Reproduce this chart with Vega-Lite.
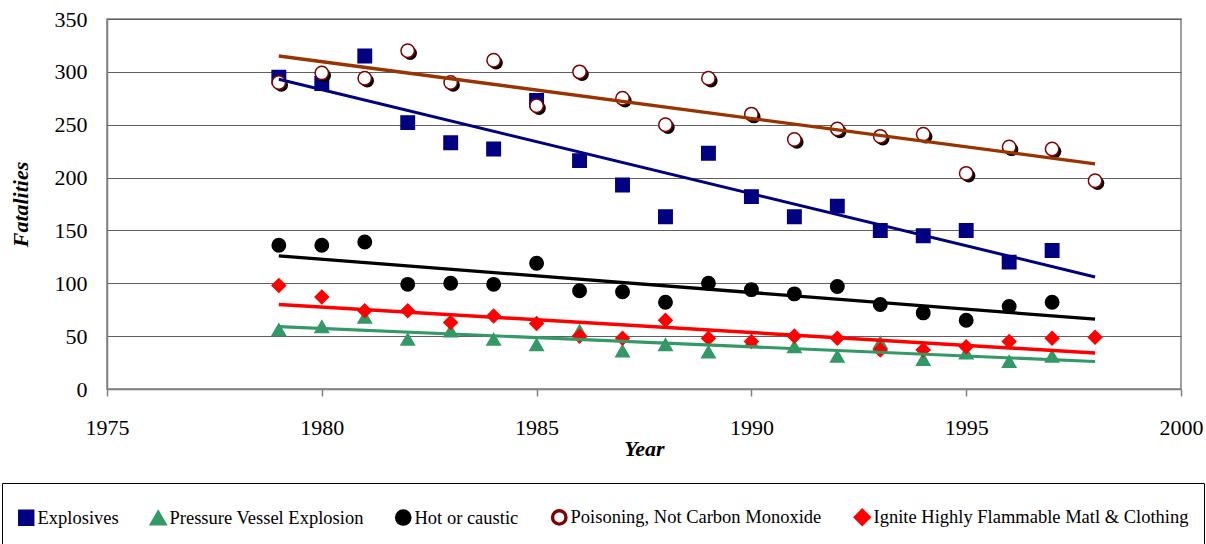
{
  "$schema": "https://vega.github.io/schema/vega-lite/v6.json",
  "width": 1074,
  "height": 370,
  "autosize": {"type": "none"},
  "padding": {"left": 107, "top": 19, "right": 25, "bottom": 155},
  "background": "white",
  "config": {
    "font": "Liberation Serif, Times New Roman, serif",
    "view": {"stroke": "#808080", "strokeWidth": 1.5},
    "axis": {"labelFont": "Liberation Serif, Times New Roman, serif", "titleFont": "Liberation Serif, Times New Roman, serif"},
    "legend": {
      "orient": "none",
      "legendX": -105,
      "legendY": 464,
      "direction": "horizontal",
      "strokeColor": "#000000",
      "padding": 15,
      "labelFont": "Liberation Serif, Times New Roman, serif",
      "titleFont": "Liberation Serif, Times New Roman, serif",
      "labelFontSize": 18.5,
      "labelColor": "#000000",
      "labelLimit": 0,
      "columnPadding": 26,
      "symbolSize": 180,
      "symbolStrokeWidth": 1.5,
      "labelOffset": 2
    }
  },
  "datasets": {
    "points": [
      {"year": 1979, "series": "Explosives", "fatalities": 295},
      {"year": 1980, "series": "Explosives", "fatalities": 289},
      {"year": 1981, "series": "Explosives", "fatalities": 315},
      {"year": 1982, "series": "Explosives", "fatalities": 252},
      {"year": 1983, "series": "Explosives", "fatalities": 233},
      {"year": 1984, "series": "Explosives", "fatalities": 227},
      {"year": 1985, "series": "Explosives", "fatalities": 273},
      {"year": 1986, "series": "Explosives", "fatalities": 216},
      {"year": 1987, "series": "Explosives", "fatalities": 193},
      {"year": 1988, "series": "Explosives", "fatalities": 163},
      {"year": 1989, "series": "Explosives", "fatalities": 223},
      {"year": 1990, "series": "Explosives", "fatalities": 182},
      {"year": 1991, "series": "Explosives", "fatalities": 163},
      {"year": 1992, "series": "Explosives", "fatalities": 173},
      {"year": 1993, "series": "Explosives", "fatalities": 150},
      {"year": 1994, "series": "Explosives", "fatalities": 145},
      {"year": 1995, "series": "Explosives", "fatalities": 150},
      {"year": 1996, "series": "Explosives", "fatalities": 120},
      {"year": 1997, "series": "Explosives", "fatalities": 131},
      {"year": 1979, "series": "Pressure Vessel Explosion", "fatalities": 56},
      {"year": 1980, "series": "Pressure Vessel Explosion", "fatalities": 59},
      {"year": 1981, "series": "Pressure Vessel Explosion", "fatalities": 68},
      {"year": 1982, "series": "Pressure Vessel Explosion", "fatalities": 47},
      {"year": 1983, "series": "Pressure Vessel Explosion", "fatalities": 55},
      {"year": 1984, "series": "Pressure Vessel Explosion", "fatalities": 47},
      {"year": 1985, "series": "Pressure Vessel Explosion", "fatalities": 42},
      {"year": 1986, "series": "Pressure Vessel Explosion", "fatalities": 55},
      {"year": 1987, "series": "Pressure Vessel Explosion", "fatalities": 36},
      {"year": 1988, "series": "Pressure Vessel Explosion", "fatalities": 42},
      {"year": 1989, "series": "Pressure Vessel Explosion", "fatalities": 35},
      {"year": 1990, "series": "Pressure Vessel Explosion", "fatalities": 45},
      {"year": 1991, "series": "Pressure Vessel Explosion", "fatalities": 40},
      {"year": 1992, "series": "Pressure Vessel Explosion", "fatalities": 31},
      {"year": 1993, "series": "Pressure Vessel Explosion", "fatalities": 44},
      {"year": 1994, "series": "Pressure Vessel Explosion", "fatalities": 28},
      {"year": 1995, "series": "Pressure Vessel Explosion", "fatalities": 34},
      {"year": 1996, "series": "Pressure Vessel Explosion", "fatalities": 26},
      {"year": 1997, "series": "Pressure Vessel Explosion", "fatalities": 31},
      {"year": 1979, "series": "Hot or caustic", "fatalities": 136},
      {"year": 1980, "series": "Hot or caustic", "fatalities": 136},
      {"year": 1981, "series": "Hot or caustic", "fatalities": 139},
      {"year": 1982, "series": "Hot or caustic", "fatalities": 99},
      {"year": 1983, "series": "Hot or caustic", "fatalities": 100},
      {"year": 1984, "series": "Hot or caustic", "fatalities": 99},
      {"year": 1985, "series": "Hot or caustic", "fatalities": 119},
      {"year": 1986, "series": "Hot or caustic", "fatalities": 93},
      {"year": 1987, "series": "Hot or caustic", "fatalities": 92},
      {"year": 1988, "series": "Hot or caustic", "fatalities": 82},
      {"year": 1989, "series": "Hot or caustic", "fatalities": 100},
      {"year": 1990, "series": "Hot or caustic", "fatalities": 94},
      {"year": 1991, "series": "Hot or caustic", "fatalities": 90},
      {"year": 1992, "series": "Hot or caustic", "fatalities": 97},
      {"year": 1993, "series": "Hot or caustic", "fatalities": 80},
      {"year": 1994, "series": "Hot or caustic", "fatalities": 72},
      {"year": 1995, "series": "Hot or caustic", "fatalities": 65},
      {"year": 1996, "series": "Hot or caustic", "fatalities": 78},
      {"year": 1997, "series": "Hot or caustic", "fatalities": 82},
      {"year": 1979, "series": "Poisoning, Not Carbon Monoxide", "fatalities": 290},
      {"year": 1980, "series": "Poisoning, Not Carbon Monoxide", "fatalities": 299},
      {"year": 1981, "series": "Poisoning, Not Carbon Monoxide", "fatalities": 294},
      {"year": 1982, "series": "Poisoning, Not Carbon Monoxide", "fatalities": 320},
      {"year": 1983, "series": "Poisoning, Not Carbon Monoxide", "fatalities": 290},
      {"year": 1984, "series": "Poisoning, Not Carbon Monoxide", "fatalities": 311},
      {"year": 1985, "series": "Poisoning, Not Carbon Monoxide", "fatalities": 268},
      {"year": 1986, "series": "Poisoning, Not Carbon Monoxide", "fatalities": 300},
      {"year": 1987, "series": "Poisoning, Not Carbon Monoxide", "fatalities": 275},
      {"year": 1988, "series": "Poisoning, Not Carbon Monoxide", "fatalities": 250},
      {"year": 1989, "series": "Poisoning, Not Carbon Monoxide", "fatalities": 294},
      {"year": 1990, "series": "Poisoning, Not Carbon Monoxide", "fatalities": 260},
      {"year": 1991, "series": "Poisoning, Not Carbon Monoxide", "fatalities": 236},
      {"year": 1992, "series": "Poisoning, Not Carbon Monoxide", "fatalities": 246},
      {"year": 1993, "series": "Poisoning, Not Carbon Monoxide", "fatalities": 239},
      {"year": 1994, "series": "Poisoning, Not Carbon Monoxide", "fatalities": 241},
      {"year": 1995, "series": "Poisoning, Not Carbon Monoxide", "fatalities": 204},
      {"year": 1996, "series": "Poisoning, Not Carbon Monoxide", "fatalities": 229},
      {"year": 1997, "series": "Poisoning, Not Carbon Monoxide", "fatalities": 227},
      {"year": 1998, "series": "Poisoning, Not Carbon Monoxide", "fatalities": 197},
      {"year": 1979, "series": "Ignite Highly Flammable Matl & Clothing", "fatalities": 98},
      {"year": 1980, "series": "Ignite Highly Flammable Matl & Clothing", "fatalities": 87},
      {"year": 1981, "series": "Ignite Highly Flammable Matl & Clothing", "fatalities": 74},
      {"year": 1982, "series": "Ignite Highly Flammable Matl & Clothing", "fatalities": 74},
      {"year": 1983, "series": "Ignite Highly Flammable Matl & Clothing", "fatalities": 63},
      {"year": 1984, "series": "Ignite Highly Flammable Matl & Clothing", "fatalities": 69},
      {"year": 1985, "series": "Ignite Highly Flammable Matl & Clothing", "fatalities": 62},
      {"year": 1986, "series": "Ignite Highly Flammable Matl & Clothing", "fatalities": 50},
      {"year": 1987, "series": "Ignite Highly Flammable Matl & Clothing", "fatalities": 48},
      {"year": 1988, "series": "Ignite Highly Flammable Matl & Clothing", "fatalities": 65},
      {"year": 1989, "series": "Ignite Highly Flammable Matl & Clothing", "fatalities": 48},
      {"year": 1990, "series": "Ignite Highly Flammable Matl & Clothing", "fatalities": 45},
      {"year": 1991, "series": "Ignite Highly Flammable Matl & Clothing", "fatalities": 50},
      {"year": 1992, "series": "Ignite Highly Flammable Matl & Clothing", "fatalities": 48},
      {"year": 1993, "series": "Ignite Highly Flammable Matl & Clothing", "fatalities": 37},
      {"year": 1994, "series": "Ignite Highly Flammable Matl & Clothing", "fatalities": 37},
      {"year": 1995, "series": "Ignite Highly Flammable Matl & Clothing", "fatalities": 40},
      {"year": 1996, "series": "Ignite Highly Flammable Matl & Clothing", "fatalities": 45},
      {"year": 1997, "series": "Ignite Highly Flammable Matl & Clothing", "fatalities": 48},
      {"year": 1998, "series": "Ignite Highly Flammable Matl & Clothing", "fatalities": 49}
    ],
    "trend": [
      {"year": 1979, "series": "Explosives", "fatalities": 293},
      {"year": 1998, "series": "Explosives", "fatalities": 106},
      {"year": 1979, "series": "Pressure Vessel Explosion", "fatalities": 59},
      {"year": 1998, "series": "Pressure Vessel Explosion", "fatalities": 26},
      {"year": 1979, "series": "Hot or caustic", "fatalities": 126},
      {"year": 1998, "series": "Hot or caustic", "fatalities": 66},
      {"year": 1979, "series": "Poisoning, Not Carbon Monoxide", "fatalities": 315},
      {"year": 1998, "series": "Poisoning, Not Carbon Monoxide", "fatalities": 213},
      {"year": 1979, "series": "Ignite Highly Flammable Matl & Clothing", "fatalities": 80},
      {"year": 1998, "series": "Ignite Highly Flammable Matl & Clothing", "fatalities": 34}
    ]
  },
  "encoding": {
    "x": {
      "field": "year",
      "type": "quantitative",
      "scale": {"domain": [1975, 2000], "nice": false, "zero": false},
      "axis": {
        "title": "Year",
        "values": [1975, 1980, 1985, 1990, 1995, 2000],
        "format": "d",
        "grid": false,
        "labelFlush": false,
        "labelOverlap": false,
        "labelFontSize": 22,
        "labelColor": "#000000",
        "labelPadding": 21,
        "tickSize": 7,
        "tickColor": "#808080",
        "tickWidth": 1.5,
        "domainColor": "#808080",
        "domainWidth": 1.5,
        "titleFontSize": 22,
        "titleFontWeight": "bold",
        "titleFontStyle": "italic",
        "titleColor": "#000000",
        "titlePadding": 0
      }
    },
    "y": {
      "field": "fatalities",
      "type": "quantitative",
      "scale": {"domain": [0, 350], "nice": false},
      "axis": {
        "title": "Fatalities",
        "values": [0, 50, 100, 150, 200, 250, 300, 350],
        "grid": true,
        "gridColor": "#606060",
        "gridWidth": 1,
        "ticks": false,
        "tickSize": 0,
        "labelFontSize": 22,
        "labelColor": "#000000",
        "labelPadding": 20,
        "domainColor": "#808080",
        "domainWidth": 1.5,
        "titleFontSize": 22,
        "titleFontWeight": "bold",
        "titleFontStyle": "italic",
        "titleColor": "#000000",
        "titlePadding": 22
      }
    }
  },
  "layer": [
    {
      "data": {"name": "points"},
      "transform": [{"filter": {"field": "series", "oneOf": ["Explosives", "Pressure Vessel Explosion", "Hot or caustic"]}}],
      "mark": {"type": "point", "filled": true, "size": 180, "opacity": 1, "strokeWidth": 1.5},
      "encoding": {
        "shape": {"field": "series", "type": "nominal",
          "scale": {"domain": ["Explosives", "Pressure Vessel Explosion", "Hot or caustic", "Poisoning, Not Carbon Monoxide", "Ignite Highly Flammable Matl & Clothing"],
                    "range": ["square", "triangle-up", "circle", "circle", "diamond"]},
          "legend": {"title": " ", "titleFontSize": 2, "titlePadding": 8}},
        "fill": {"field": "series", "type": "nominal",
          "scale": {"domain": ["Explosives", "Pressure Vessel Explosion", "Hot or caustic", "Poisoning, Not Carbon Monoxide", "Ignite Highly Flammable Matl & Clothing"],
                    "range": ["#000080", "#339966", "#000000", "#ffffff", "#ff0000"]},
          "legend": {"title": " ", "titleFontSize": 2, "titlePadding": 8}},
        "stroke": {"field": "series", "type": "nominal",
          "scale": {"domain": ["Explosives", "Pressure Vessel Explosion", "Hot or caustic", "Poisoning, Not Carbon Monoxide", "Ignite Highly Flammable Matl & Clothing"],
                    "range": ["#000080", "#339966", "#000000", "#800000", "#ff0000"]},
          "legend": {"title": " ", "titleFontSize": 2, "titlePadding": 8}}
      }
    },
    {
      "data": {"name": "points"},
      "transform": [{"filter": {"field": "series", "equal": "Poisoning, Not Carbon Monoxide"}}],
      "mark": {"type": "point", "shape": "circle", "filled": true, "size": 180, "opacity": 1, "color": "#000000", "xOffset": 2.5, "yOffset": 2.5}
    },
    {
      "data": {"name": "points"},
      "transform": [{"filter": {"field": "series", "oneOf": ["Poisoning, Not Carbon Monoxide", "Ignite Highly Flammable Matl & Clothing"]}}],
      "mark": {"type": "point", "filled": true, "size": 180, "opacity": 1, "strokeWidth": 1.5},
      "encoding": {
        "shape": {"field": "series", "type": "nominal"},
        "fill": {"field": "series", "type": "nominal"},
        "stroke": {"field": "series", "type": "nominal"}
      }
    },
    {
      "data": {"name": "trend"},
      "mark": {"type": "line"},
      "encoding": {
        "detail": {"field": "series", "type": "nominal"},
        "color": {"field": "series", "type": "nominal", "legend": null,
          "scale": {"domain": ["Explosives", "Pressure Vessel Explosion", "Hot or caustic", "Poisoning, Not Carbon Monoxide", "Ignite Highly Flammable Matl & Clothing"],
                    "range": ["#000080", "#339966", "#000000", "#993300", "#ff0000"]}},
        "strokeWidth": {"field": "series", "type": "nominal", "legend": null,
          "scale": {"domain": ["Explosives", "Pressure Vessel Explosion", "Hot or caustic", "Poisoning, Not Carbon Monoxide", "Ignite Highly Flammable Matl & Clothing"],
                    "range": [3, 3.5, 3, 2, 3.5]}}
      }
    }
  ]
}
